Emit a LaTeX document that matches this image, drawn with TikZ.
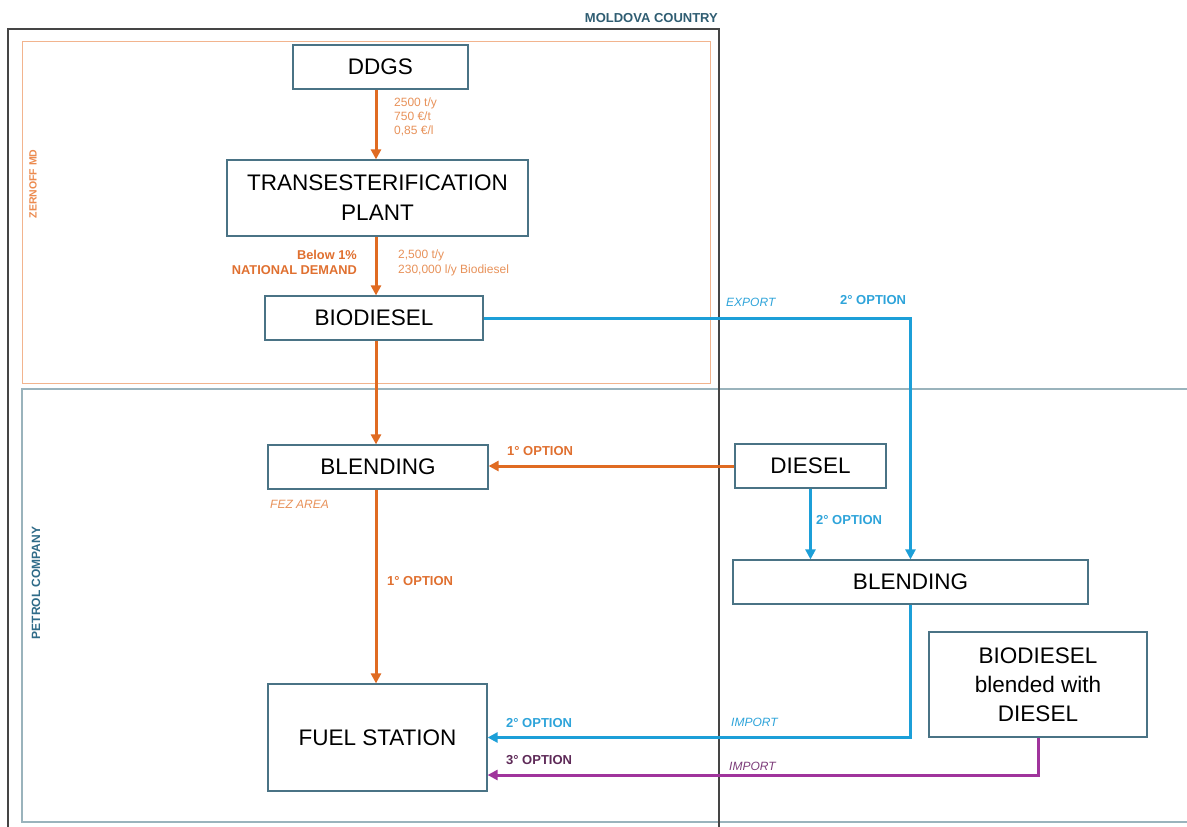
\documentclass[tikz,border=0pt]{standalone}
\usepackage{fontspec}
\setmainfont{Liberation Sans}
\usetikzlibrary{arrows.meta,calc}
\definecolor{boxc}{HTML}{4A7385}
\definecolor{orA}{HTML}{E06B22}
\definecolor{orL}{HTML}{E8925A}
\definecolor{orB}{HTML}{E07030}
\definecolor{blA}{HTML}{1C9FD8}
\definecolor{blT}{HTML}{2EA4DA}
\definecolor{puA}{HTML}{A0349C}
\definecolor{puT}{HTML}{5E2A58}
\definecolor{puI}{HTML}{7D3C7A}
\definecolor{moldc}{HTML}{2F5D72}
\definecolor{petc}{HTML}{2F6B88}
\definecolor{zerc}{HTML}{F2B48E}
\definecolor{zert}{HTML}{EC8A4E}
\definecolor{petl}{HTML}{9AB3BC}
\definecolor{moldl}{HTML}{454545}
\tikzset{
  box/.style={draw=boxc, line width=1.2pt, fill=white, inner sep=0pt, align=center,
    font=\fontsize{22.5}{29}\selectfont},
  flow/.style={line width=3pt, -{Triangle[width=10pt,length=10pt]}},
  orflow/.style={flow, draw=orA},
  blflow/.style={flow, draw=blA},
  puflow/.style={flow, draw=puA},
  small/.style={inner sep=0pt, font=\fontsize{12}{14}\selectfont},
  bold/.style={inner sep=0pt, font=\fontsize{13}{15}\selectfont\bfseries},
  ital/.style={inner sep=0pt, font=\fontsize{12}{14}\selectfont\itshape},
}
\begin{document}
\begin{tikzpicture}[x=1pt,y=-1pt]
\useasboundingbox[fill=white] (0,0) rectangle (1187,827);
% containers
\draw[zerc, line width=1pt] (22,41) rectangle (710,383);
\draw[petl, line width=1.4pt] (1195,389) -- (22,389) -- (22,822) -- (1195,822);
\draw[moldl, line width=1.8pt] (8,830) -- (8,29) -- (719,29) -- (719,830);
\node[bold, anchor=east, text=moldc] (moldova) at (718,18) {MOLDOVA COUNTRY};
\node[inner sep=0pt, font=\fontsize{10.5}{12}\selectfont\bfseries, rotate=90, text=zert] (zernoff) at (33,184) {ZERNOFF MD};
\node[inner sep=0pt, font=\fontsize{12}{14}\selectfont\bfseries, rotate=90, text=petc] (petrol) at (36,583) {PETROL COMPANY};
% nodes
\node[box, minimum width=175pt, minimum height=44pt] (ddgs) at (380.5,67) {DDGS};
\node[box, minimum width=301pt, minimum height=76pt, font=\fontsize{22.5}{30}\selectfont] (trans) at (377.5,198) {TRANSESTERIFICATION\\PLANT};
\node[box, minimum width=218pt, minimum height=44pt] (bio) at (374,318) {BIODIESEL};
\node[box, minimum width=220pt, minimum height=44pt] (blendL) at (378,467) {BLENDING};
\node[box, minimum width=151pt, minimum height=44pt] (diesel) at (810.5,466) {DIESEL};
\node[box, minimum width=355pt, minimum height=44pt] (blendR) at (910.5,582) {BLENDING};
\node[box, minimum width=218pt, minimum height=105pt] (mix) at (1038,684.5) {BIODIESEL\\blended with\\DIESEL};
\node[box, minimum width=219pt, minimum height=107pt] (fuel) at (377.5,737.5) {FUEL STATION};
\coordinate (spine) at (376,0);
% orange flows
\draw[orflow] (ddgs.south -| spine) -- (trans.north -| spine);
\draw[orflow] (trans.south -| spine) -- (bio.north -| spine);
\draw[orflow] (bio.south -| spine) -- (blendL.north -| spine);
\draw[orflow] (blendL.south -| spine) -- (fuel.north -| spine);
\draw[orflow] (diesel.west) -- (diesel.west -| blendL.east);
% blue flows
\draw[blflow] (bio.east) -| (blendR.north);
\draw[blflow] (diesel.south) -- (diesel.south |- blendR.north);
\draw[blflow] (blendR.south) |- (fuel.east);
% purple flow
\draw[puflow] (mix.south) |- ([yshift=-37.5pt]fuel.east);
% labels
\node[small, anchor=west, text=orL, align=left] (l1) at (394,117) {2500 t/y\\750 €/t\\0,85 €/l};
\node[bold, anchor=east, text=orB, align=right, font=\fontsize{12.8}{15}\selectfont\bfseries] (l2) at (357,262) {Below 1\%\\NATIONAL DEMAND};
\node[small, anchor=west, text=orL, align=left, font=\fontsize{12}{15}\selectfont] (l3) at (398,263) {2,500 t/y\\230,000 l/y Biodiesel};
\node[ital, anchor=west, text=blT] (l4) at (726,302) {EXPORT};
\node[bold, anchor=west, text=blT] (l5) at (840,300) {2° OPTION};
\node[bold, anchor=west, text=orB] (l6) at (507,451) {1° OPTION};
\node[ital, anchor=west, text=orL] (l7) at (270,504) {FEZ AREA};
\node[bold, anchor=west, text=blT] (l8) at (816,520) {2° OPTION};
\node[bold, anchor=west, text=orB] (l9) at (387,581) {1° OPTION};
\node[bold, anchor=west, text=blT] (l10) at (506,723) {2° OPTION};
\node[ital, anchor=west, text=blT] (l11) at (731,722) {IMPORT};
\node[bold, anchor=west, text=puT] (l12) at (506,760) {3° OPTION};
\node[ital, anchor=west, text=puI] (l13) at (729,766) {IMPORT};
\end{tikzpicture}
\end{document}
